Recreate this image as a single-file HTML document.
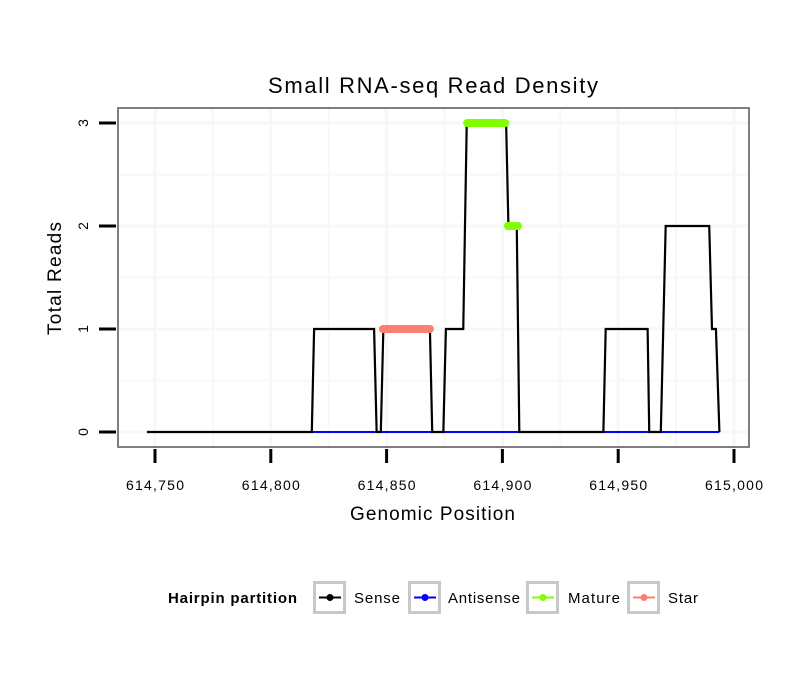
<!DOCTYPE html>
<html><head><meta charset="utf-8"><style>
body{margin:0;background:#fff;}
svg{display:block;font-family:"Liberation Sans",sans-serif;}
</style></head><body>
<svg id="c" width="810" height="690" xmlns="http://www.w3.org/2000/svg"></svg>
<script>
const senseX=[614746.5,614817.7,614818.7,614844.6,614845.7,614847.5,614848.6,614868.7,614869.7,614874.5,614875.6,614883.1,614884.6,614901.6,614902.6,614906.2,614907.3,614943.6,614944.6,614962.7,614963.4,614968.4,614970.5,614989.3,614990.5,614992.2,614993.7];
const senseY=[0,0,1,1,0,0,1,1,0,0,1,1,3,3,2,2,0,0,1,1,0,0,2,2,1,1,0];
const antiX=[614818,614993.7];
const antiY=[0,0];
const matureSeg=[[614884.8,614901.2,3],[614902.4,614906.7,2]];
const starSeg=[[614848.4,614868.7,1]];
const xTicks=[614750,614800,614850,614900,614950,615000];
const xTickLabels=["614,750","614,800","614,850","614,900","614,950","615,000"];
const yTicks=[0,1,2,3];
const legendNames=["Sense","Antisense","Mature","Star"];
const legendColors=["#000","#0000ff","#7fff00","#fa8072"];

const svg=document.getElementById('c');const NS="http://www.w3.org/2000/svg";
const X=v=>155+(v-614750)*2.316;
const Y=v=>432-v*103;
function mk(t,a,p){const e=document.createElementNS(NS,t);for(const k in a)e.setAttribute(k,a[k]);(p||svg).appendChild(e);return e;}
let panel=mk('rect',{x:118,y:108,width:631,height:339,fill:'#fff'});


for(let v=614725;v<=615025;v+=25){const x=X(v);if(x<119||x>748)continue;let g=mk('line',{x1:x,x2:x,y1:109,y2:446,stroke:'#f7f7f7','stroke-width':v%50?2:3});}
for(let v=-0.5;v<=3.5;v+=0.5){const y=Y(v);if(y<109||y>446)continue;let g=mk('line',{x1:119,x2:748,y1:y,y2:y,stroke:'#f7f7f7','stroke-width':v%1?2:3});}
let ap=antiX.map((x,i)=>X(x)+','+Y(antiY[i])).join(' ');
let al=mk('polyline',{points:ap,fill:'none',stroke:'#0000ff','stroke-width':2});


let sp=senseX.map((x,i)=>X(x)+','+Y(senseY[i])).join(' ');
let sl=mk('polyline',{points:sp,fill:'none',stroke:'#000','stroke-width':2.2});


matureSeg.forEach(s=>{let l=mk('line',{x1:X(s[0]),x2:X(s[1]),y1:Y(s[2]),y2:Y(s[2]),stroke:'#7fff00','stroke-width':8,'stroke-linecap':'round'});});
starSeg.forEach(s=>{let l=mk('line',{x1:X(s[0]),x2:X(s[1]),y1:Y(s[2]),y2:Y(s[2]),stroke:'#fa8072','stroke-width':8,'stroke-linecap':'round'});});
let b=mk('rect',{x:118,y:108,width:631,height:339,fill:'none',stroke:'#7f7f7f','stroke-width':2});


xTicks.forEach((v,i)=>{let t=mk('line',{x1:X(v),x2:X(v),y1:449,y2:463,stroke:'#000','stroke-width':3});
let l=mk('text',{x:X(v),y:490,'font-size':14,'text-anchor':'middle',fill:'#000',textLength:58,lengthAdjust:'spacing'});l.textContent=xTickLabels[i];});
yTicks.forEach(v=>{let t=mk('line',{x1:99,x2:116,y1:Y(v),y2:Y(v),stroke:'#000','stroke-width':3});
let l=mk('text',{x:0,y:0,'font-size':14,'text-anchor':'middle',transform:`translate(88,${Y(v)}) rotate(-90)`});l.textContent=v;});
let ti=mk('text',{x:268,y:93,'font-size':22,textLength:330,lengthAdjust:'spacing'});ti.textContent='Small RNA-seq Read Density';
let xt=mk('text',{x:350,y:520,'font-size':19,textLength:165,lengthAdjust:'spacing'});xt.textContent='Genomic Position';
let yt=mk('text',{x:0,y:0,'font-size':19,textLength:113,lengthAdjust:'spacing',transform:'translate(61,335) rotate(-90)'});yt.textContent='Total Reads';
let lt=mk('text',{x:168,y:603,'font-size':15,'font-weight':'bold',textLength:129,lengthAdjust:'spacing'});lt.textContent='Hairpin partition';
const kx=[313,408,526,627],tx=[354,448,568,668],tw=[46,72,52,30];
legendNames.forEach((n,i)=>{let g=mk('g',{});
mk('rect',{x:kx[i]+1.5,y:582.5,width:30,height:30,fill:'#fff',stroke:'#c8c8c8','stroke-width':3},g);
mk('line',{x1:kx[i]+6,x2:kx[i]+28,y1:597.5,y2:597.5,stroke:legendColors[i],'stroke-width':2},g);
mk('circle',{cx:kx[i]+17,cy:597.5,r:3.5,fill:legendColors[i]},g);
let t=mk('text',{x:tx[i],y:603,'font-size':15,textLength:tw[i],lengthAdjust:'spacing'},g);t.textContent=n;});
</script>
</body></html>
